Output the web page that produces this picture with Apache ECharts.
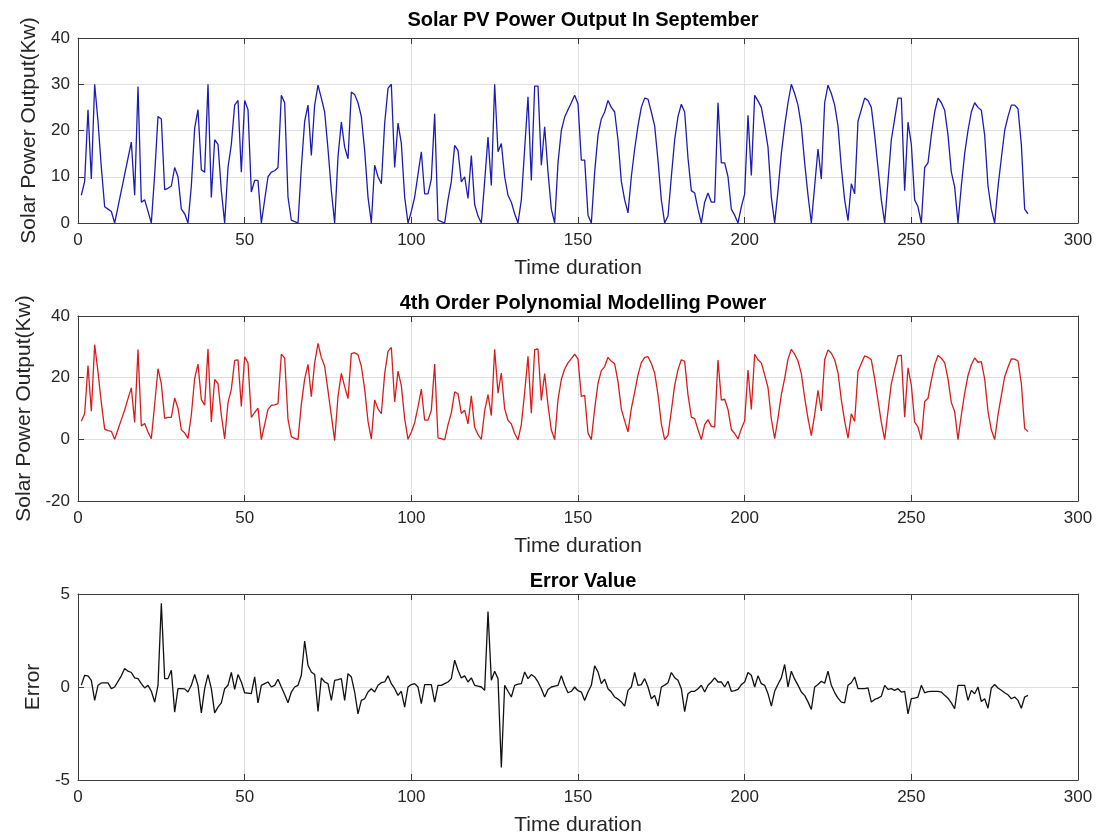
<!DOCTYPE html>
<html>
<head>
<meta charset="utf-8">
<script src="https://cdn.jsdelivr.net/npm/echarts@6/dist/echarts.min.js"></script>
<style>
  html, body { margin: 0; padding: 0; background: #fff; }
  #chart { width: 1106px; height: 839px; }
</style>
</head>
<body>
<div id="chart"></div>
<script>
// Measured PV output (kW), one value per time step (11 steps per day)
const solarOutput = [
  6, 9, 24.5, 9.5, 30, 22, 12, 3.5, 3, 2.5, 0,
  3.5, 7, 10.5, 14, 17.5, 6, 29.5, 4.5, 5, 2.5, 0,
  10.5, 23, 22.5, 7.2, 7.5, 8, 12, 10, 3, 2, 0,
  8, 20.5, 24.5, 11.5, 11, 30, 5.5, 18, 17, 7, 0,
  12, 17, 25.5, 26.5, 11, 26.5, 24.5, 6.7, 9.2, 9.2, 0,
  5, 10, 11, 11.3, 12, 27.6, 26, 5.6, 0.6, 0.3, 0,
  12, 22, 25.5, 14.6, 25.5, 29.8, 27, 24, 16, 7, 0,
  14.3, 21.8, 16.4, 13.9, 28.3, 27.8, 26, 23, 15.7, 5.6, 0,
  12.5, 10, 8.5, 21.5, 29.1, 30, 12, 21.6, 17.2, 5.6, 0,
  2.5, 5.6, 10.5, 15.4, 6.3, 6.3, 9.5, 23.6, 0.6, 0.3, 0,
  5, 9, 16.8, 15.7, 8.9, 10, 5.3, 14.6, 4, 1.5, 0,
  9, 18.6, 8.1, 30, 15.4, 17.2, 10, 6, 4.5, 2, 0,
  5, 16, 27.3, 9.2, 29.6, 29.6, 12.5, 20.8, 11, 3, 0,
  13, 20, 22.9, 24.5, 26, 27.6, 25.8, 13.6, 13.6, 1.7, 0,
  11, 19, 22.5, 24, 26.5, 25, 24, 18, 9, 5, 2.2,
  10, 16, 21, 25, 27, 26.8, 24, 21, 13.5, 5, 0,
  1.5, 10, 18, 23, 25.7, 24, 14, 7, 6.5, 3, 0,
  4.5, 6.5, 4.5, 4.5, 26, 13, 13, 10, 3, 1.7, 0,
  3.5, 6.3, 23.3, 10.3, 27.6, 26.4, 25, 21, 16.4, 5.6, 0,
  7, 15, 21, 26, 30, 28, 25.5, 21, 13, 6, 0,
  8, 16, 9.5, 26, 29.8, 28, 25.5, 21, 12, 5, 0.5,
  8.5, 6.3, 22, 24.5, 27, 26.5, 25, 19, 12, 5, 0,
  9, 18, 22.5, 27, 27, 7, 21.8, 17, 5, 3.5, 0,
  12, 13, 19, 24, 27, 26, 24.4, 19, 11, 7.8, 0,
  8, 15, 20, 24, 26, 25, 24.4, 19, 8, 3, 0,
  7.8, 14, 20, 23, 25.5, 25.5, 24.7, 17, 3, 2
];

// 4th order polynomial model of the same output (kW)
const modelOutput = [
  5.9, 8.4, 23.9, 9.1, 30.7, 21.9, 11.8, 3.3, 2.8, 2.6, 0,
  3.2, 6.4, 9.5, 13.2, 16.7, 5.5, 29.1, 4.3, 5.1, 2.4, 0.2,
  11.3, 22.9, 18, 6.8, 7.1, 7.1, 13.4, 10.1, 3.1, 2.1, 0.3,
  7.9, 19.8, 24.4, 12.9, 11.1, 29.3, 5.6, 19.4, 18.1, 7.9, 0.1,
  11.9, 16.2, 25.6, 25.8, 10.7, 26.8, 24.8, 7.1, 8.7, 10.1, -0.1,
  4.8, 9.7, 11, 11.2, 11.6, 27.6, 26.4, 6.5, 0.9, 0.3, -0.1,
  11.4, 19.5, 24.3, 13.8, 24.8, 31.1, 26.5, 23.7, 15.8, 7.7, -0.4,
  13.9, 21.4, 17.1, 13.2, 27.8, 28.1, 27.4, 23.7, 16.3, 5.9, 0.1,
  12.8, 9.9, 8.3, 21.2, 28.5, 29.8, 12.1, 22.1, 17.4, 6.7, 0,
  2.4, 5.4, 10.5, 16.3, 6.2, 6.2, 9.4, 24.4, 0.5, 0.2, -0.2,
  4.7, 8.6, 15.4, 14.8, 8.4, 9.4, 5, 14.1, 3.9, 1.5, 0,
  9.2, 14.5, 7.7, 29.2, 15, 21.5, 9.9, 6.2, 5, 1.9, -0.2,
  4.8, 15.2, 26.9, 8.5, 29.1, 29.3, 12.6, 21.3, 11.1, 3, -0.1,
  12.9, 19.4, 22.8, 24.8, 26.2, 27.6, 26, 13.9, 14.3, 2, -0.1,
  9.9, 18.2, 22.3, 23.6, 26.6, 25.3, 24.5, 18.7, 9.8, 6, 2.4,
  10, 15.2, 20.9, 24.9, 26.6, 26.8, 24.6, 21.5, 14.5, 5, -0.1,
  1.3, 9.2, 17.5, 22.6, 25.8, 25.3, 14.4, 7.2, 6.7, 3.1, -0.1,
  4.8, 6.4, 4.2, 4, 25.7, 12.7, 13, 9.7, 3.2, 1.9, 0.1,
  3.4, 6, 22.5, 9.7, 27.6, 25.8, 24.8, 20.9, 16.8, 6.6, 0.2,
  6.9, 14.5, 19.8, 26, 29.2, 27.6, 25.4, 21.3, 13.5, 6.8, 1.2,
  8, 15.9, 9.2, 25.8, 29, 27.9, 25.8, 21.6, 12.8, 5.9, 0.4,
  8.3, 5.8, 22.1, 24.6, 27.1, 26.6, 25.8, 19.7, 12.6, 5.5, -0.1,
  9.1, 18.1, 22.7, 27.1, 27.3, 7.2, 23.2, 17.6, 5.6, 4, -0.1,
  12.3, 13.3, 19.2, 24.2, 27.2, 26.3, 24.9, 19.6, 11.9, 9, -0.1,
  7.9, 14.9, 20.7, 24.2, 26.4, 25, 25.2, 19.6, 9.1, 3.1, -0.1,
  7.9, 14.2, 20.3, 23.4, 26.1, 26, 25.4, 18.1, 3.5, 2.5
];

// Difference between measured and modelled output
const errorValue = [
  0.1, 0.63, 0.6, 0.36, -0.72, 0.09, 0.22, 0.22, 0.22, -0.09, 0,
  0.3, 0.6, 1.0, 0.85, 0.78, 0.49, 0.45, 0.18, -0.05, 0.09, -0.23,
  -0.81, 0.09, 4.5, 0.45, 0.45, 0.9, -1.35, -0.09, -0.09, -0.1, -0.27,
  0.09, 0.67, 0.09, -1.39, -0.09, 0.67, -0.09, -1.39, -1.08, -0.85, -0.09,
  0.09, 0.78, -0.13, 0.67, 0.27, -0.31, -0.33, -0.36, 0.54, -0.85, 0.09,
  0.18, 0.27, 0, 0.09, 0.42, 0, -0.4, -0.85, -0.27, 0, 0.09,
  0.63, 2.47, 1.17, 0.81, 0.67, -1.32, 0.49, 0.27, 0.18, -0.72, 0.36,
  0.4, 0.45, -0.72, 0.72, 0.54, -0.27, -1.44, -0.72, -0.63, -0.27, -0.09,
  -0.27, 0.09, 0.23, 0.27, 0.6, 0.18, -0.09, -0.45, -0.23, -1.08, 0,
  0.13, 0.18, 0, -0.9, 0.13, 0.13, 0.13, -0.81, 0.09, 0.09, 0.18,
  0.27, 0.45, 1.44, 0.9, 0.49, 0.6, 0.27, 0.49, 0.09, 0.05, 0,
  -0.18, 4.06, 0.36, 0.85, 0.45, -4.33, 0.09, -0.23, -0.54, 0.09, 0.15,
  0.18, 0.81, 0.45, 0.67, 0.54, 0.27, -0.09, -0.54, -0.13, 0, 0.05,
  0.09, 0.6, 0.09, -0.31, -0.23, 0, -0.2, -0.27, -0.72, -0.27, 0.09,
  1.14, 0.81, 0.18, 0.42, -0.09, -0.27, -0.54, -0.65, -0.8, -1.03, -0.18,
  0, 0.78, 0.09, 0.13, 0.45, 0, -0.63, -0.45, -1.03, 0, 0.1,
  0.23, 0.78, 0.5, 0.36, -0.09, -1.32, -0.36, -0.23, -0.23, -0.09, 0.09,
  -0.27, 0.09, 0.27, 0.49, 0.27, 0.27, 0, 0.31, -0.23, -0.2, -0.13,
  0.13, 0.27, 0.78, 0.63, 0, 0.6, 0.18, 0.09, -0.36, -1.03, -0.23,
  0.15, 0.49, 1.21, 0, 0.85, 0.42, 0.1, -0.27, -0.45, -0.8, -1.21,
  0, 0.13, 0.31, 0.2, 0.85, 0.09, -0.3, -0.6, -0.81, -0.85, 0.09,
  0.23, 0.54, -0.09, -0.09, -0.09, -0.05, -0.81, -0.67, -0.6, -0.5, 0.09,
  -0.13, -0.09, -0.18, -0.09, -0.27, -0.23, -1.44, -0.63, -0.6, -0.54, 0.09,
  -0.31, -0.25, -0.23, -0.23, -0.23, -0.27, -0.45, -0.6, -0.85, -1.17, 0.09,
  0.09, 0.09, -0.72, -0.18, -0.36, 0, -0.78, -0.63, -1.14, -0.05, 0.13,
  -0.05, -0.18, -0.31, -0.42, -0.63, -0.54, -0.72, -1.14, -0.54, -0.45
];

// Axis ticks
const timeTicks = { min: 0, max: 300, interval: 50 };
const powerTicksTop = { min: 0, max: 40, interval: 10 };
const powerTicksModel = { min: -20, max: 40, interval: 20 };
const errorTicks = { min: -5, max: 5, interval: 5 };

const titles = ['Solar PV Power Output In September', '4th Order Polynomial Modelling Power', 'Error Value'];
const xLabel = 'Time duration';
const yLabels = ['Solar Power Output(Kw)', 'Solar Power Output(Kw)', 'Error'];

const FONT = '"Liberation Sans", Arial, Helvetica, sans-serif';
const AXIS_COLOR = '#3c3c3c';
const GRID_COLOR = '#e0e0e0';
const TEXT_COLOR = '#262626';

const grids = [
  { left: 78, top: 38, width: 1000, height: 185 },
  { left: 78, top: 316, width: 1000, height: 185 },
  { left: 78, top: 594, width: 1000, height: 186 }
];

function toPoints(values) {
  return values.map((v, i) => [i + 1, v]);
}

const xAxes = [];
const yAxes = [];
const yTicks = [powerTicksTop, powerTicksModel, errorTicks];
const yNameGaps = [37, 37, 30];

grids.forEach((g, k) => {
  // bottom axis with labels
  xAxes.push({
    type: 'value', gridIndex: k, position: 'bottom',
    min: timeTicks.min, max: timeTicks.max, interval: timeTicks.interval,
    name: xLabel, nameLocation: 'middle', nameGap: 35,
    nameTextStyle: { fontFamily: FONT, fontSize: 21, color: TEXT_COLOR },
    axisLine: { show: true, onZero: false, lineStyle: { color: AXIS_COLOR, width: 1 } },
    axisTick: { show: true, inside: true, length: 6, lineStyle: { color: AXIS_COLOR } },
    axisLabel: { fontFamily: FONT, fontSize: 17, color: TEXT_COLOR, margin: 9 },
    splitLine: { show: true, lineStyle: { color: GRID_COLOR, width: 1 } }
  });
  // top mirror axis (box edge + ticks)
  xAxes.push({
    type: 'value', gridIndex: k, position: 'top',
    min: timeTicks.min, max: timeTicks.max, interval: timeTicks.interval,
    axisLine: { show: true, onZero: false, lineStyle: { color: AXIS_COLOR, width: 1 } },
    axisTick: { show: true, inside: true, length: 6, lineStyle: { color: AXIS_COLOR } },
    axisLabel: { show: false },
    splitLine: { show: false }
  });
  const t = yTicks[k];
  yAxes.push({
    type: 'value', gridIndex: k, position: 'left',
    min: t.min, max: t.max, interval: t.interval,
    name: yLabels[k], nameLocation: 'middle', nameGap: yNameGaps[k], nameRotate: 90,
    nameTextStyle: { fontFamily: FONT, fontSize: 21, color: TEXT_COLOR },
    axisLine: { show: true, onZero: false, lineStyle: { color: AXIS_COLOR, width: 1 } },
    axisTick: { show: true, inside: true, length: 6, lineStyle: { color: AXIS_COLOR } },
    axisLabel: { fontFamily: FONT, fontSize: 17, color: TEXT_COLOR, margin: 8 },
    splitLine: { show: true, lineStyle: { color: GRID_COLOR, width: 1 } }
  });
  yAxes.push({
    type: 'value', gridIndex: k, position: 'right',
    min: t.min, max: t.max, interval: t.interval,
    axisLine: { show: true, onZero: false, lineStyle: { color: AXIS_COLOR, width: 1 } },
    axisTick: { show: true, inside: true, length: 6, lineStyle: { color: AXIS_COLOR } },
    axisLabel: { show: false },
    splitLine: { show: false }
  });
});

const titleTops = [5, 288, 566];

const option = {
  animation: false,
  backgroundColor: '#ffffff',
  title: titles.map((text, k) => ({
    text,
    left: 578, top: titleTops[k], textAlign: 'center',
    textStyle: { fontFamily: FONT, fontSize: 20, fontWeight: 'bold', color: '#000' }
  })),
  grid: grids,
  xAxis: xAxes,
  yAxis: yAxes,
  series: [
    {
      type: 'line', xAxisIndex: 0, yAxisIndex: 0,
      data: toPoints(solarOutput), showSymbol: false,
      lineStyle: { color: '#1c1cb4', width: 1.3 }
    },
    {
      type: 'line', xAxisIndex: 2, yAxisIndex: 2,
      data: toPoints(modelOutput), showSymbol: false,
      lineStyle: { color: '#d81c1c', width: 1.3 }
    },
    {
      type: 'line', xAxisIndex: 4, yAxisIndex: 4,
      data: toPoints(errorValue), showSymbol: false,
      lineStyle: { color: '#111111', width: 1.3 }
    }
  ]
};

const chart = echarts.init(document.getElementById('chart'), null, { renderer: 'canvas' });
chart.setOption(option);
</script>
</body>
</html>
